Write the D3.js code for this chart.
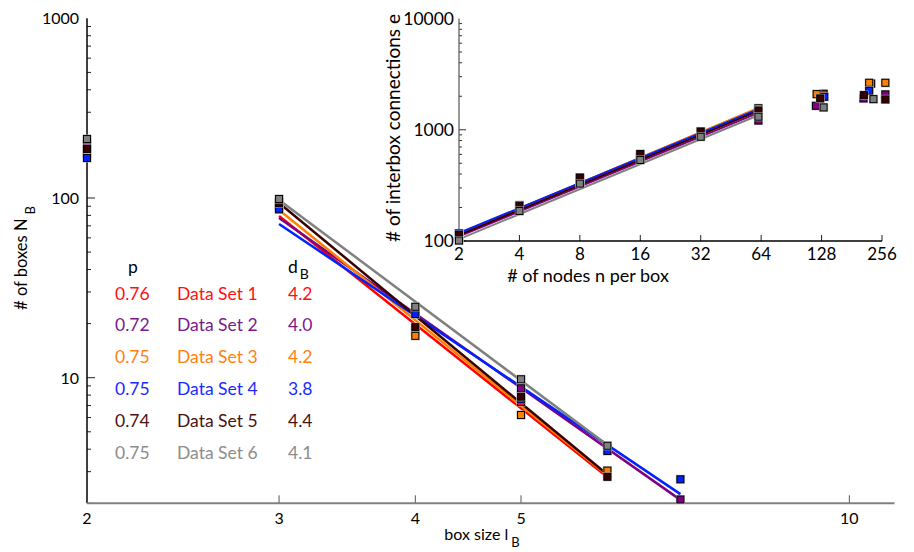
<!DOCTYPE html>
<html>
<head>
<meta charset="utf-8">
<script src="https://cdn.jsdelivr.net/npm/d3@7"></script>
<style>
  body { margin: 0; background: #fff; }
  text { font-family: Lato, sans-serif; }
</style>
</head>
<body>
<svg id="chart" width="914" height="552"></svg>
<script>
// colours of the six data sets
const COLORS = ['#ff0000', '#800080', '#ff8000', '#0022ff', '#3a0000', '#808080'];
const TEXT_COLORS = ['#ff1010', '#7a1a8a', '#ff8010', '#1a2aff', '#4a1212', '#8c8c8c'];

// legend table
const P_VALUES = ['0.76', '0.72', '0.75', '0.75', '0.74', '0.75'];
const SET_LABELS = ['Data Set 1', 'Data Set 2', 'Data Set 3', 'Data Set 4', 'Data Set 5', 'Data Set 6'];
const DB_VALUES = ['4.2', '4.0', '4.2', '3.8', '4.4', '4.1'];

// main plot: box size l_B vs number of boxes N_B
const BOX_SIZES = [2, 3, 4, 5, 6, 7];
const NB = [
  [182.6, 90.3, 18.2, 7.32, 2.93],
  [199.8, 89.1, 23.2, 8.73, 4.01, 2.10],
  [175.8, 91.4, 17.1, 6.20, 3.04],
  [167.0, 86.5, 22.6, 7.56, 3.91, 2.72],
  [187.4, 93.8, 19.1, 7.84, 2.81],
  [212.9, 98.7, 24.8, 9.80, 4.18]
];
// power-law fits, drawn between two box sizes
const FIT_LB = [[3, 6], [3, 7], [3, 6], [3, 7], [3, 6], [3, 6]];
const FIT_NB = [[79.4, 2.80], [77.4, 2.09], [85.8, 2.86], [71.7, 2.25], [93.8, 2.89], [97.5, 4.22]];

const X_TICKS = [2, 3, 4, 5, 10];
const Y_TICKS = [10, 100, 1000];

// inset: nodes per box vs interbox connections
const NODES = [
  [2, 4, 8, 16, 32, 62, 131, 226, 266],
  [2, 4, 8, 16, 32, 62, 120, 207, 266],
  [2, 4, 8, 16, 32, 62, 121, 221, 266],
  [2, 4, 8, 16, 32, 62, 132, 221, 266],
  [2, 4, 8, 16, 32, 62, 126, 208, 266],
  [2, 4, 8, 16, 32, 62, 131, 232]
];
const EDGES = [
  [115, 205, 360, 590, 950, 1540, 2106, 2600, 1870],
  [108, 196, 340, 560, 880, 1210, 1641, 1913, 2078],
  [116, 203, 355, 585, 940, 1560, 2091, 2643, 2643],
  [117, 210, 370, 600, 960, 1500, 1978, 2239, 1874],
  [113, 208, 372, 605, 965, 1470, 1913, 2048, 1874],
  [101, 186, 328, 535, 865, 1310, 1588, 1885]
];
const INSET_FIT_N = [2, 62];
const INSET_FIT_E = [[116, 1560], [110, 1420], [115, 1570], [118, 1530], [113, 1480], [104, 1350]];
const INSET_X_TICKS = [2, 4, 8, 16, 32, 64, 128, 256];
const INSET_Y_TICKS = [100, 1000, 10000];

const svg = d3.select('#chart');

const x = d3.scaleLog().domain([2, 11]).range([87, 894.5]);
const y = d3.scaleLog().domain([2, 1000]).range([503.3, 18.3]);

const ix = d3.scaleLog().base(2).domain([2, 256]).range([459, 882]);
const iy = d3.scaleLog().domain([100, 10000]).range([241, 18.5]);

// minor ticks for a log axis between two decades
const minorTicks = (lo, hi) => {
  const out = [];
  for (let d = 1; d < hi; d *= 10) {
    for (let k = 1; k < 10; k++) {
      const v = k * d;
      if (v >= lo && v <= hi) out.push(v);
    }
  }
  return out;
};

const line = (sx, sy) => d3.line().x(d => sx(d[0])).y(d => sy(d[1]));

const drawMarkers = (g, sx, sy, xs, ys, color) => {
  const pts = ys.map((v, i) => [xs[i], v]);
  g.selectAll(null).data(pts).enter().append('rect')
    .attr('x', d => sx(d[0]) - 4.5).attr('y', d => sy(d[1]) - 4.5)
    .attr('width', 9).attr('height', 9)
    .attr('fill', '#b8b8b8');
  g.selectAll(null).data(pts).enter().append('rect')
    .attr('x', d => sx(d[0]) - 3.5).attr('y', d => sy(d[1]) - 3.5)
    .attr('width', 7).attr('height', 7)
    .attr('fill', color).attr('stroke', '#000').attr('stroke-width', 1);
};

// ---------- main axes ----------
const axes = svg.append('g');

axes.selectAll(null).data(minorTicks(2, 1000)).enter().append('line')
  .attr('x1', 87).attr('x2', d => Y_TICKS.includes(d) ? 95 : 91)
  .attr('y1', d => y(d)).attr('y2', d => y(d))
  .attr('stroke', '#222').attr('stroke-width', 1);

axes.append('line')
  .attr('x1', 87).attr('x2', 87).attr('y1', y(1000)).attr('y2', y(2))
  .attr('stroke', '#000').attr('stroke-width', 1.5);

axes.selectAll(null).data(X_TICKS.filter(d => d !== 2)).enter().append('line')
  .attr('x1', d => x(d)).attr('x2', d => x(d))
  .attr('y1', y(2)).attr('y2', y(2) - 8)
  .attr('stroke', '#555').attr('stroke-width', 1);

axes.append('line')
  .attr('x1', 87).attr('x2', x(11)).attr('y1', y(2)).attr('y2', y(2))
  .attr('stroke', '#808080').attr('stroke-width', 2);

axes.selectAll(null).data(Y_TICKS).enter().append('text')
  .attr('x', 79).attr('y', d => y(d) + 6)
  .attr('text-anchor', 'end').attr('font-size', 16)
  .text(d => d);

axes.selectAll(null).data(X_TICKS).enter().append('text')
  .attr('x', d => x(d)).attr('y', 524)
  .attr('text-anchor', 'middle').attr('font-size', 16)
  .text(d => d);

const xLabel = axes.append('text')
  .attr('x', 482).attr('y', 540).attr('text-anchor', 'middle').attr('font-size', 16);
xLabel.append('tspan').text('box size l');
xLabel.append('tspan').attr('dx', 3).attr('dy', 7).attr('font-size', 13).text('B');

const yLabel = axes.append('text')
  .attr('transform', 'translate(27,258) rotate(-90)')
  .attr('text-anchor', 'middle').attr('font-size', 16.5);
yLabel.append('tspan').text('# of boxes N');
yLabel.append('tspan').attr('dx', 4).attr('dy', 8).attr('font-size', 13).text('B');

// ---------- main data ----------
const plot = svg.append('g');

FIT_NB.forEach((fit, i) => {
  plot.append('path')
    .attr('d', line(x, y)([[FIT_LB[i][0], fit[0]], [FIT_LB[i][1], fit[1]]]))
    .attr('fill', 'none').attr('stroke', COLORS[i]).attr('stroke-width', 2.5);
});
NB.forEach((vals, i) => drawMarkers(plot, x, y, BOX_SIZES, vals, COLORS[i]));

// ---------- legend table ----------
const legend = svg.append('g').attr('font-size', 17.5);
const rowY = i => 299.5 + i * 31.9;

legend.append('text').attr('x', 133).attr('y', 273).attr('text-anchor', 'middle').text('p');
const dbHead = legend.append('text').attr('x', 288).attr('y', 273);
dbHead.append('tspan').text('d');
dbHead.append('tspan').attr('dx', 2).attr('dy', 6).attr('font-size', 14).text('B');

legend.selectAll(null).data(P_VALUES).enter().append('text')
  .attr('x', 115).attr('y', (d, i) => rowY(i)).attr('fill', (d, i) => TEXT_COLORS[i]).text(d => d);
legend.selectAll(null).data(SET_LABELS).enter().append('text')
  .attr('x', 177).attr('y', (d, i) => rowY(i)).attr('fill', (d, i) => TEXT_COLORS[i]).text(d => d);
legend.selectAll(null).data(DB_VALUES).enter().append('text')
  .attr('x', 288).attr('y', (d, i) => rowY(i)).attr('fill', (d, i) => TEXT_COLORS[i]).text(d => d);

// ---------- inset ----------
const inset = svg.append('g');

inset.selectAll(null).data(minorTicks(100, 10000)).enter().append('line')
  .attr('x1', 459).attr('x2', d => INSET_Y_TICKS.includes(d) ? 466 : 462)
  .attr('y1', d => iy(d)).attr('y2', d => iy(d))
  .attr('stroke', '#333').attr('stroke-width', 1);

inset.selectAll(null).data(INSET_X_TICKS).enter().append('line')
  .attr('x1', d => ix(d)).attr('x2', d => ix(d))
  .attr('y1', 241).attr('y2', 235)
  .attr('stroke', '#222').attr('stroke-width', 1);

inset.append('line')
  .attr('x1', 459).attr('x2', 459).attr('y1', iy(10000)).attr('y2', iy(100))
  .attr('stroke', '#555').attr('stroke-width', 1.2);
inset.append('line')
  .attr('x1', 459).attr('x2', ix(256)).attr('y1', 241).attr('y2', 241)
  .attr('stroke', '#000').attr('stroke-width', 1.5);

inset.selectAll(null).data(INSET_Y_TICKS).enter().append('text')
  .attr('x', 454).attr('y', d => iy(d) + 6)
  .attr('text-anchor', 'end').attr('font-size', 17.5)
  .text(d => d);
inset.selectAll(null).data(INSET_X_TICKS).enter().append('text')
  .attr('x', d => ix(d)).attr('y', 259.5)
  .attr('text-anchor', 'middle').attr('font-size', 17)
  .text(d => d);

inset.append('text')
  .attr('x', 588).attr('y', 281.5).attr('text-anchor', 'middle').attr('font-size', 18)
  .text('# of nodes n per box');
inset.append('text')
  .attr('transform', 'translate(400,128) rotate(-90)')
  .attr('text-anchor', 'middle').attr('font-size', 19)
  .text('# of interbox connections e');

INSET_FIT_E.forEach((fit, i) => {
  inset.append('path')
    .attr('d', line(ix, iy)([[INSET_FIT_N[0], fit[0]], [INSET_FIT_N[1], fit[1]]]))
    .attr('fill', 'none').attr('stroke', COLORS[i]).attr('stroke-width', 2);
});
EDGES.forEach((vals, i) => drawMarkers(inset, ix, iy, NODES[i], vals, COLORS[i]));
</script>
</body>
</html>
